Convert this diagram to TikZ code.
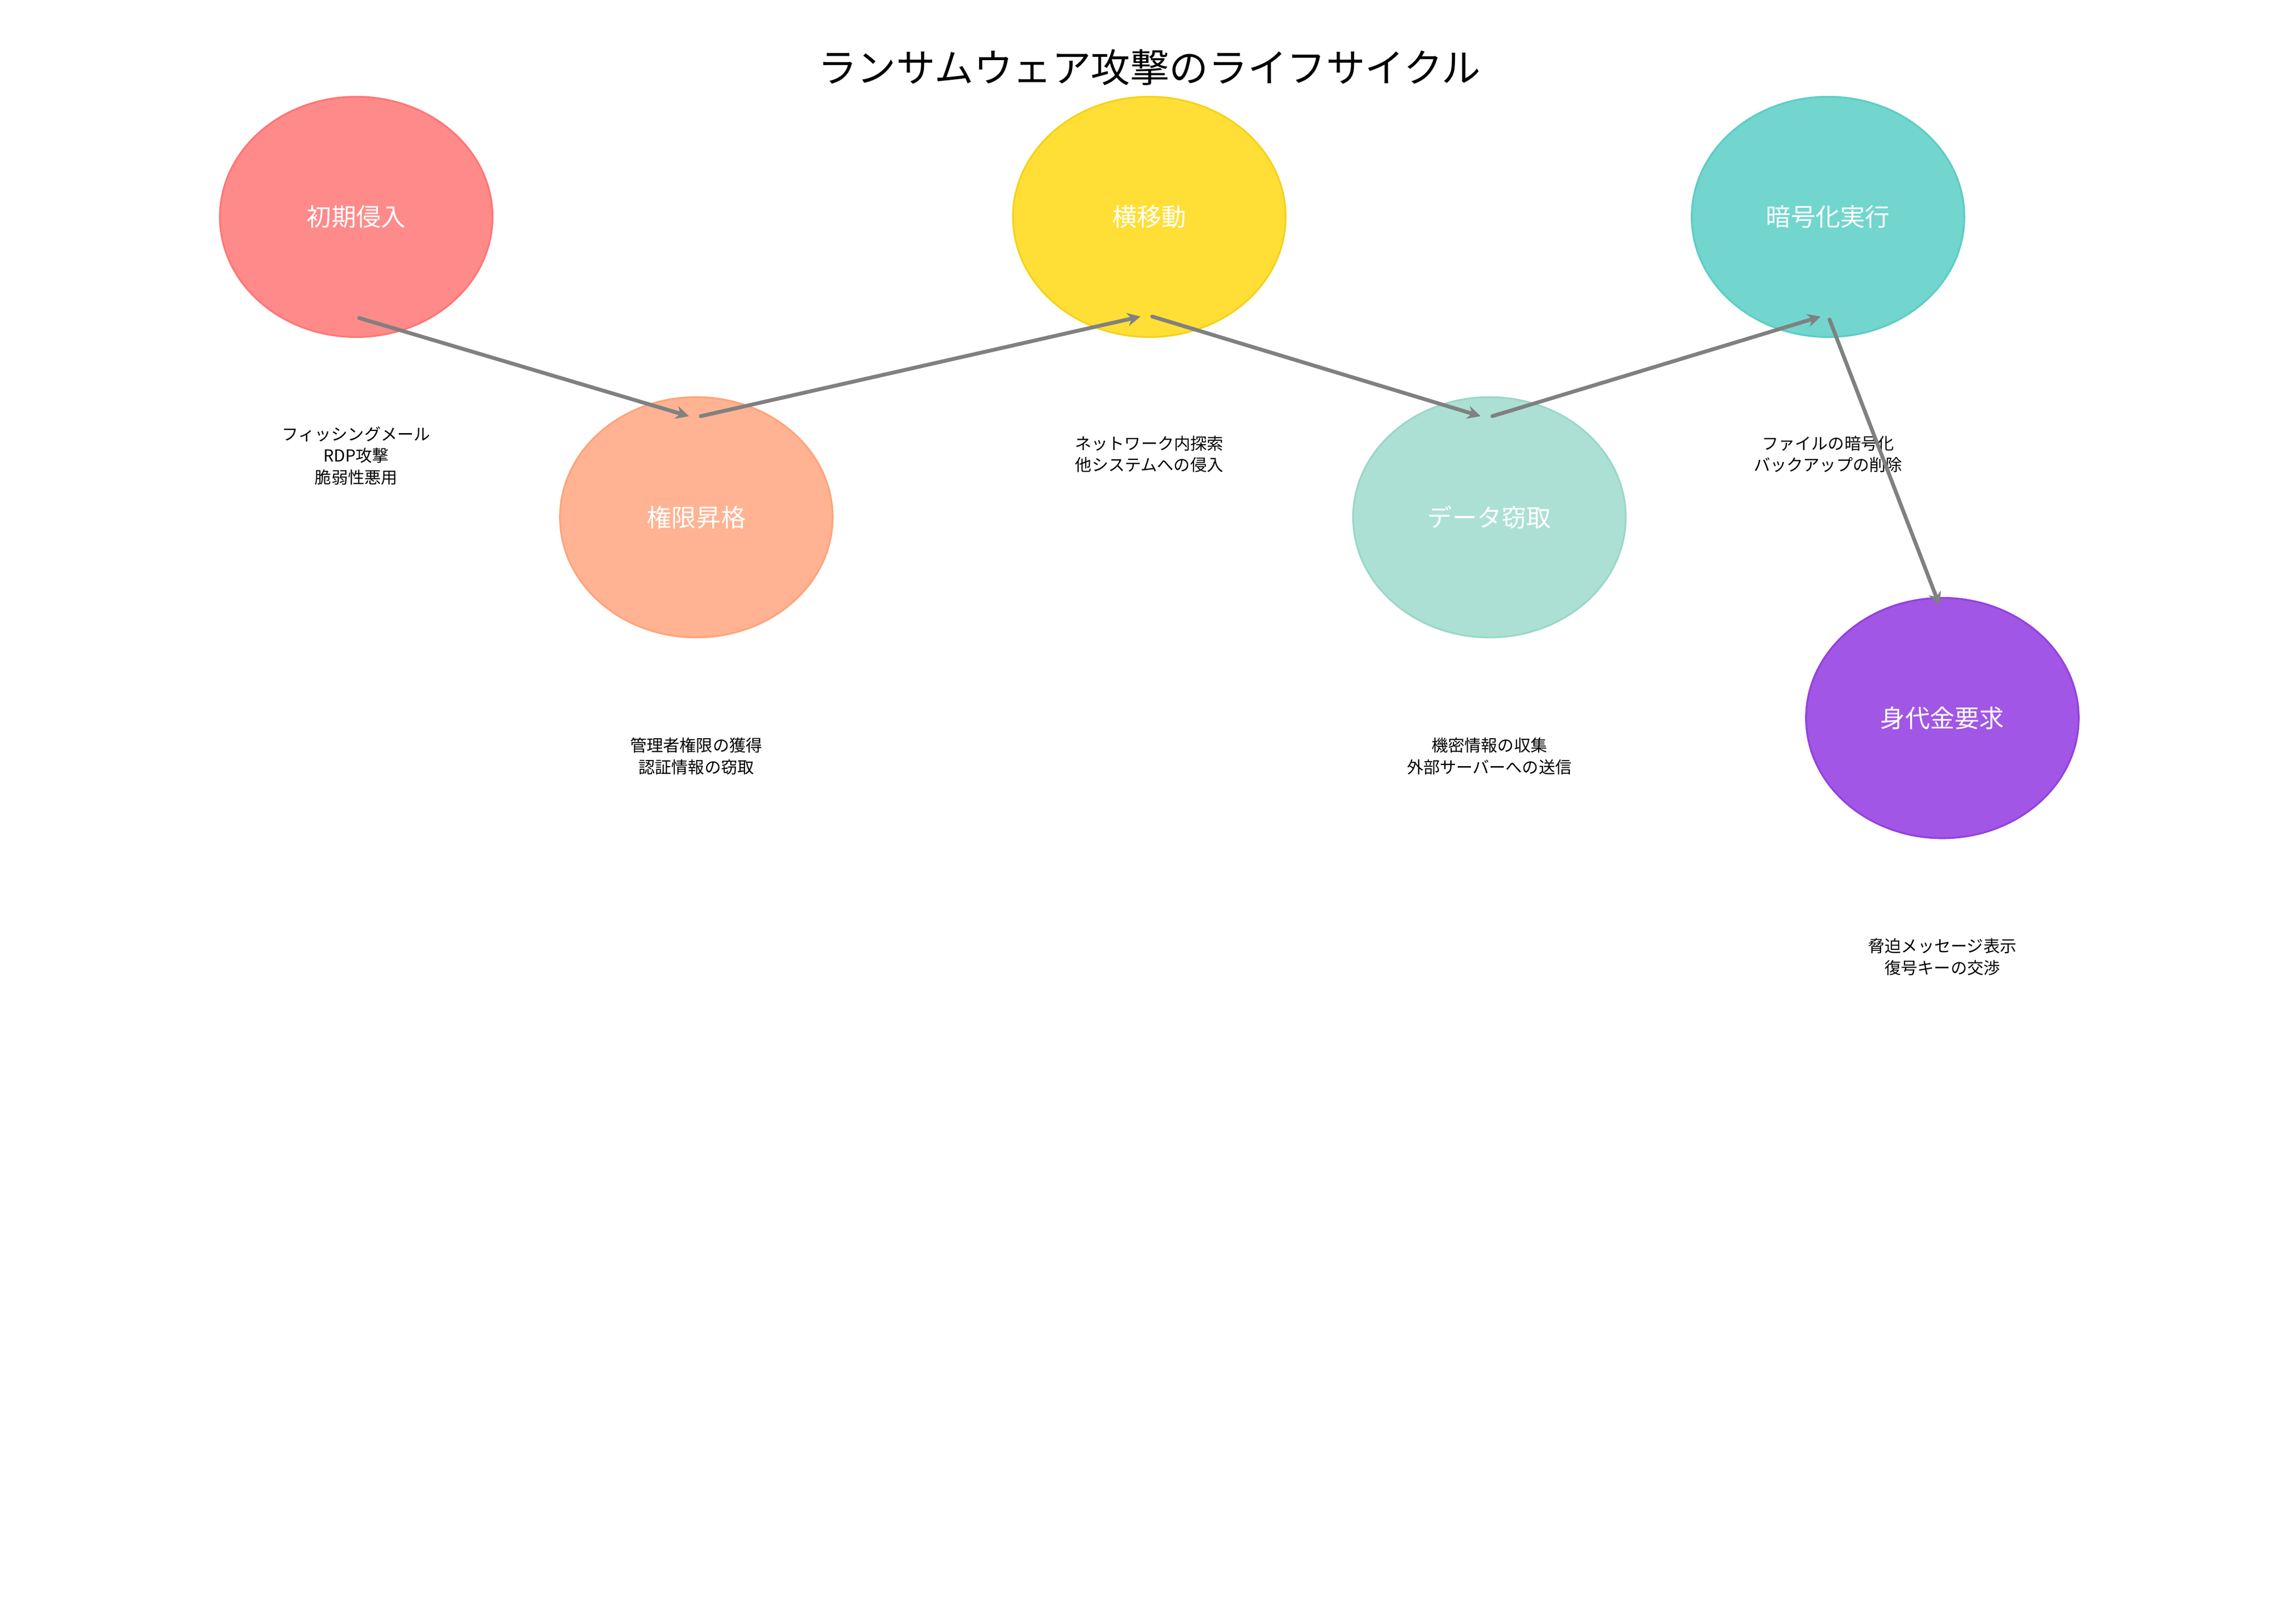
\documentclass[tikz,border=0pt]{standalone}
\usepackage{fontspec}
\setmainfont{Noto Sans CJK JP}
\begin{document}
\begin{tikzpicture}[x=0.5mm,y=-0.5mm,
  stage/.style={ellipse,minimum width=186\pgflinewidth,text=white,font=\fontsize{22}{26}\selectfont},
  desc/.style={align=center,font=\fontsize{16}{21}\selectfont},
  arr/.style={draw=gray!95!black,line width=2.6mm/1.0,-{Stealth[length=5mm,width=4.5mm]},line width=1.3mm,line cap=round}]
\usetikzlibrary{shapes.geometric,arrows.meta}
\path[use as bounding box] (0,0) rectangle (1556,1108);
\node[font=\fontsize{38}{44}\selectfont] (title) at (784,46) {ランサムウェア攻撃のライフサイクル};
\newcommand{\stg}[6]{%
  \fill[#4,draw=#5,line width=0.6mm] (#2,#3) ellipse (93 and 82);
  \node[text=white,font=\fontsize{24}{28}\selectfont] (#1) at (#2,#3) {#6};}
\definecolor{c1f}{HTML}{FF8A8A}\definecolor{c1d}{HTML}{FF7575}
\definecolor{c2f}{HTML}{FFB392}\definecolor{c2d}{HTML}{FFA37A}
\definecolor{c3f}{HTML}{FFDF36}\definecolor{c3d}{HTML}{F5D21A}
\definecolor{c4f}{HTML}{ADE0D4}\definecolor{c4d}{HTML}{98D8C8}
\definecolor{c5f}{HTML}{72D6CE}\definecolor{c5d}{HTML}{5CCDC3}
\definecolor{c6f}{HTML}{A156E5}\definecolor{c6d}{HTML}{9340E0}
\stg{s1}{243}{148}{c1f}{c1d}{初期侵入}
\stg{s2}{475}{353}{c2f}{c2d}{権限昇格}
\stg{s3}{784}{148}{c3f}{c3d}{横移動}
\stg{s4}{1016}{353}{c4f}{c4d}{データ窃取}
\stg{s5}{1247}{148}{c5f}{c5d}{暗号化実行}
\stg{s6}{1325}{490}{c6f}{c6d}{身代金要求}
\node[desc] (d1) at (243,311) {フィッシングメール\\RDP攻撃\\脆弱性悪用};
\node[desc] (d2) at (475,516) {管理者権限の獲得\\認証情報の窃取};
\node[desc] (d3) at (784,310) {ネットワーク内探索\\他システムへの侵入};
\node[desc] (d4) at (1016,516) {機密情報の収集\\外部サーバーへの送信};
\node[desc] (d5) at (1247,310) {ファイルの暗号化\\バックアップの削除};
\node[desc] (d6) at (1325,653) {脅迫メッセージ表示\\復号キーの交渉};
\coordinate (a1) at (245,217); \coordinate (b1) at (470,284);
\coordinate (a2) at (478,284); \coordinate (b2) at (778,216);
\coordinate (a3) at (786,216); \coordinate (b3) at (1010,284);
\coordinate (a4) at (1018,284); \coordinate (b4) at (1242,216);
\coordinate (a5) at (1248,218); \coordinate (b5) at (1323,413);
\foreach \i in {1,...,5} \draw[draw=gray,line width=1.3mm,line cap=round,-{Stealth[length=4.5mm,width=4.5mm]}] (a\i) -- (b\i);
\end{tikzpicture}
\end{document}
